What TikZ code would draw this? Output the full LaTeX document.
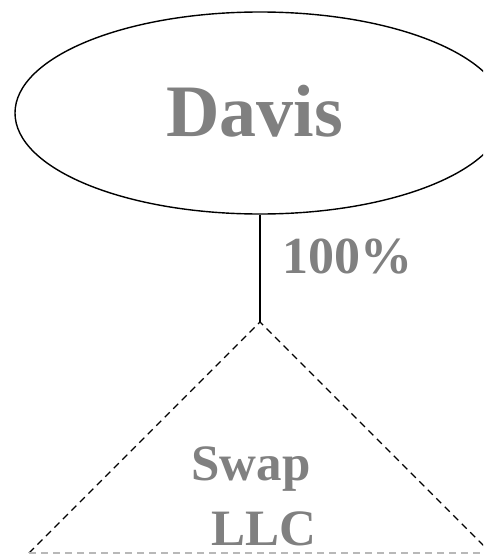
\documentclass[tikz,border=0pt]{standalone}
\usepackage{fontspec}
\setmainfont{Liberation Serif}
\usetikzlibrary{shapes.geometric}
\definecolor{txtgray}{HTML}{808080}
\definecolor{basegray}{HTML}{B8B8B8}
\tikzset{
  lbl/.style={text=txtgray, font=\bfseries, inner sep=0pt, anchor=base},
  tri/.style={line width=1.3pt, dash pattern=on 7pt off 5pt},
}
\begin{document}
\begin{tikzpicture}[x=1pt,y=-1pt]
\useasboundingbox (0,0) rectangle (483,554);
\clip (0,0) rectangle (483,554);
\node[ellipse, draw, line width=1.4pt, minimum width=490pt, minimum height=202pt, inner sep=0pt] (davis) at (260,113) {};
\node[lbl, font=\bfseries\fontsize{74}{74}\selectfont] (davistxt) at (254.5,136) {Davis};
\coordinate (apex) at (260,322);
\coordinate (bl) at (29,553);
\coordinate (br) at (491,553);
\draw[line width=1.3pt] (davis.south) -- (apex);
\node[lbl, font=\bfseries\fontsize{52}{52}\selectfont] (pct) at (347,273) {100\%};
\draw[tri] (bl) -- (apex) -- (br);
\draw[basegray, line width=1.3pt, dash pattern=on 7pt off 5pt] (bl) -- (br);
\node[lbl, font=\bfseries\fontsize{51}{51}\selectfont] (swap) at (251,480) {Swap};
\node[lbl, font=\bfseries\fontsize{51}{51}\selectfont] (llc) at (263.5,545) {LLC};
\end{tikzpicture}
\end{document}
